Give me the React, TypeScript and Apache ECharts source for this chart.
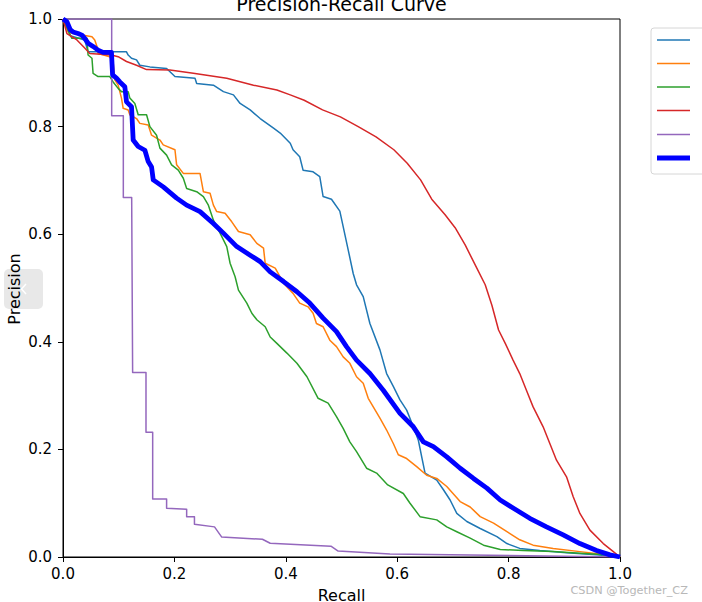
import React, { useEffect, useRef } from "react";
import * as echarts from "echarts";

// ---- data (recall, precision) ----
const seriesNames = ["class 0", "class 1", "class 2", "class 3", "class 4", "all classes"];
const seriesColors = ["#1f77b4", "#ff7f0e", "#2ca02c", "#d62728", "#9467bd", "#0000ff"];
const seriesWidths = [1.5, 1.5, 1.5, 1.5, 1.5, 4.8];
const axisTicks = [0, 0.2, 0.4, 0.6, 0.8, 1.0];

const curveBlue: number[][] = [
  [0, 1], [0.007, 0.983], [0.013, 0.969], [0.039, 0.961], [0.045, 0.939], [0.114, 0.939],
  [0.117, 0.933], [0.123, 0.927], [0.132, 0.924], [0.138, 0.914], [0.156, 0.911], [0.186, 0.908],
  [0.201, 0.893], [0.237, 0.89], [0.24, 0.88], [0.27, 0.877], [0.288, 0.865], [0.306, 0.859],
  [0.318, 0.843], [0.336, 0.831], [0.354, 0.815], [0.378, 0.797], [0.39, 0.788], [0.408, 0.769],
  [0.413, 0.757], [0.425, 0.744], [0.431, 0.719], [0.449, 0.716], [0.461, 0.707], [0.467, 0.67],
  [0.482, 0.665], [0.497, 0.643], [0.503, 0.614], [0.512, 0.571], [0.521, 0.527], [0.527, 0.506],
  [0.539, 0.484], [0.551, 0.434], [0.569, 0.385], [0.581, 0.341], [0.593, 0.317], [0.605, 0.292],
  [0.617, 0.273], [0.629, 0.242], [0.638, 0.217], [0.644, 0.186], [0.65, 0.156], [0.671, 0.143],
  [0.683, 0.125], [0.695, 0.106], [0.707, 0.081], [0.725, 0.066], [0.749, 0.053], [0.779, 0.038],
  [0.797, 0.025], [0.82, 0.016], [0.856, 0.012], [0.904, 0.008], [0.958, 0.004], [1, 0],
];

const curveOrange: number[][] = [
  [0, 1], [0.01, 0.975], [0.052, 0.967], [0.057, 0.961], [0.061, 0.949], [0.063, 0.936],
  [0.084, 0.93], [0.09, 0.92], [0.093, 0.887], [0.099, 0.877], [0.105, 0.853], [0.108, 0.834],
  [0.117, 0.831], [0.12, 0.822], [0.132, 0.815], [0.138, 0.806], [0.153, 0.803], [0.159, 0.784],
  [0.174, 0.775], [0.18, 0.766], [0.201, 0.757], [0.204, 0.729], [0.216, 0.713], [0.246, 0.713],
  [0.252, 0.679], [0.264, 0.676], [0.27, 0.654], [0.276, 0.642], [0.291, 0.639], [0.303, 0.623],
  [0.315, 0.605], [0.336, 0.599], [0.348, 0.583], [0.36, 0.574], [0.363, 0.546], [0.381, 0.537],
  [0.396, 0.509], [0.413, 0.49], [0.425, 0.472], [0.44, 0.465], [0.449, 0.453], [0.455, 0.434],
  [0.467, 0.428], [0.479, 0.403], [0.491, 0.391], [0.503, 0.372], [0.515, 0.36], [0.527, 0.335],
  [0.539, 0.323], [0.548, 0.295], [0.569, 0.258], [0.581, 0.236], [0.593, 0.211], [0.602, 0.19],
  [0.617, 0.183], [0.635, 0.168], [0.653, 0.152], [0.671, 0.146], [0.689, 0.131], [0.713, 0.103],
  [0.731, 0.093], [0.749, 0.075], [0.773, 0.063], [0.797, 0.047], [0.82, 0.032], [0.844, 0.022],
  [0.88, 0.016], [0.928, 0.01], [0.976, 0.004], [1, 0],
];

const curveGreen: number[][] = [
  [0, 1], [0.013, 0.97], [0.016, 0.964], [0.043, 0.964], [0.045, 0.933], [0.052, 0.927],
  [0.054, 0.899], [0.063, 0.893], [0.084, 0.893], [0.09, 0.883], [0.099, 0.871], [0.105, 0.865],
  [0.117, 0.865], [0.12, 0.853], [0.129, 0.843], [0.135, 0.822], [0.15, 0.822], [0.156, 0.8],
  [0.168, 0.784], [0.174, 0.76], [0.186, 0.747], [0.195, 0.729], [0.207, 0.719], [0.216, 0.704],
  [0.222, 0.685], [0.24, 0.679], [0.252, 0.67], [0.261, 0.654], [0.27, 0.626], [0.282, 0.602],
  [0.294, 0.577], [0.3, 0.546], [0.309, 0.521], [0.315, 0.496], [0.33, 0.472], [0.339, 0.453],
  [0.348, 0.441], [0.363, 0.428], [0.372, 0.409], [0.384, 0.397], [0.402, 0.379], [0.42, 0.36],
  [0.438, 0.335], [0.458, 0.295], [0.476, 0.286], [0.491, 0.261], [0.503, 0.239], [0.515, 0.214],
  [0.527, 0.196], [0.545, 0.165], [0.563, 0.156], [0.583, 0.134], [0.611, 0.118], [0.623, 0.1],
  [0.641, 0.075], [0.671, 0.069], [0.689, 0.056], [0.707, 0.047], [0.731, 0.035], [0.755, 0.022],
  [0.785, 0.014], [0.826, 0.012], [0.88, 0.01], [0.928, 0.007], [0.976, 0.004], [1, 0],
];

const curveRed: number[][] = [
  [0, 1], [0.007, 0.973], [0.025, 0.961], [0.039, 0.946], [0.048, 0.936], [0.087, 0.933],
  [0.099, 0.93], [0.114, 0.921], [0.132, 0.914], [0.15, 0.906], [0.192, 0.905], [0.234, 0.899],
  [0.294, 0.89], [0.342, 0.877], [0.384, 0.868], [0.408, 0.859], [0.433, 0.849], [0.466, 0.831],
  [0.498, 0.818], [0.53, 0.8], [0.562, 0.781], [0.594, 0.757], [0.618, 0.732], [0.642, 0.701],
  [0.662, 0.665], [0.686, 0.636], [0.704, 0.612], [0.722, 0.58], [0.74, 0.543], [0.758, 0.506],
  [0.77, 0.468], [0.782, 0.422], [0.794, 0.397], [0.808, 0.366], [0.82, 0.341], [0.832, 0.31],
  [0.844, 0.279], [0.862, 0.242], [0.874, 0.211], [0.886, 0.18], [0.904, 0.149], [0.916, 0.112],
  [0.928, 0.081], [0.946, 0.05], [0.97, 0.025], [0.988, 0.01], [1, 0],
];

const curvePurple: number[][] = [
  [0, 1], [0.0874, 1], [0.0874, 0.82], [0.1083, 0.82], [0.1083, 0.668], [0.1233, 0.668],
  [0.125, 0.343], [0.149, 0.343], [0.149, 0.232], [0.161, 0.232], [0.161, 0.108], [0.186, 0.108],
  [0.186, 0.0905], [0.222, 0.0887], [0.222, 0.075], [0.236, 0.075], [0.236, 0.061], [0.272, 0.056],
  [0.285, 0.037], [0.358, 0.033], [0.372, 0.0255], [0.481, 0.02], [0.494, 0.011], [0.587, 0.0056],
  [1, 0],
];

const curveAll: number[][] = [
  [0, 1], [0.007, 0.995], [0.013, 0.98], [0.018, 0.976], [0.027, 0.973], [0.034, 0.97],
  [0.039, 0.964], [0.045, 0.955], [0.054, 0.949], [0.063, 0.942], [0.072, 0.938], [0.087, 0.938],
  [0.089, 0.896], [0.096, 0.89], [0.102, 0.883], [0.111, 0.874], [0.114, 0.846], [0.123, 0.837],
  [0.126, 0.775], [0.135, 0.763], [0.147, 0.756], [0.153, 0.735], [0.159, 0.725], [0.162, 0.701],
  [0.18, 0.688], [0.204, 0.667], [0.222, 0.654], [0.246, 0.642], [0.27, 0.62], [0.288, 0.602],
  [0.312, 0.577], [0.336, 0.561], [0.354, 0.549], [0.372, 0.53], [0.396, 0.512], [0.42, 0.493],
  [0.443, 0.472], [0.467, 0.444], [0.491, 0.419], [0.509, 0.391], [0.527, 0.366], [0.551, 0.341],
  [0.575, 0.31], [0.605, 0.267], [0.629, 0.242], [0.647, 0.214], [0.665, 0.205], [0.689, 0.186],
  [0.713, 0.165], [0.737, 0.146], [0.761, 0.128], [0.785, 0.106], [0.808, 0.091], [0.838, 0.072],
  [0.868, 0.056], [0.898, 0.041], [0.928, 0.025], [0.958, 0.012], [0.982, 0.004], [1, 0],
];

const curves = [curveBlue, curveOrange, curveGreen, curveRed, curvePurple, curveAll];

const FONT = "DejaVu Sans";

export default function App() {
  const ref = useRef<HTMLDivElement>(null);

  useEffect(() => {
    if (!ref.current) return;
    const chart = echarts.init(ref.current, undefined, { renderer: "svg" });

    const legendYs = [40, 63.5, 87, 110.5, 134.5, 158];
    const legendLines = seriesColors.map((c, i) => ({
      type: "line",
      shape: { x1: 657, y1: legendYs[i], x2: 690, y2: legendYs[i] },
      style: { stroke: c, lineWidth: seriesWidths[i] },
      z: 101,
    }));

    const option: any = {
      animation: false,
      backgroundColor: "#ffffff",
      grid: {
        left: 63,
        top: 19,
        right: 82,
        bottom: 45,
        show: true,
        borderColor: "#000",
        borderWidth: 1,
        backgroundColor: "transparent",
        z: 3,
      },
      xAxis: {
        type: "value",
        min: axisTicks[0],
        max: axisTicks[axisTicks.length - 1],
        interval: 0.2,
        axisLine: { show: true, onZero: false, lineStyle: { color: "#000", width: 1 } },
        axisTick: { show: true, inside: false, length: 5, lineStyle: { color: "#000", width: 1 } },
        axisLabel: {
          fontSize: 15,
          fontFamily: FONT,
          color: "#000",
          margin: 9,
          formatter: (v: number) => v.toFixed(1),
        },
        splitLine: { show: false },
      },
      yAxis: {
        type: "value",
        min: axisTicks[0],
        max: axisTicks[axisTicks.length - 1],
        interval: 0.2,
        axisLine: { show: true, onZero: false, lineStyle: { color: "#000", width: 1 } },
        axisTick: { show: true, inside: false, length: 5, lineStyle: { color: "#000", width: 1 } },
        axisLabel: {
          fontSize: 15,
          fontFamily: FONT,
          color: "#000",
          margin: 11,
          formatter: (v: number) => v.toFixed(1),
        },
        splitLine: { show: false },
      },
      series: curves.map((d, i) => ({
        name: seriesNames[i],
        type: "line",
        data: d,
        showSymbol: false,
        symbol: "none",
        clip: true,
        lineStyle: { color: seriesColors[i], width: seriesWidths[i], join: "round" },
        itemStyle: { color: seriesColors[i] },
        z: 2 + i,
      })),
      graphic: [
        {
          type: "text",
          x: 341.5,
          y: 3.5,
          style: {
            text: "Precision-Recall Curve",
            fontSize: 19,
            fontFamily: FONT,
            fill: "#000",
            textAlign: "center",
            textVerticalAlign: "middle",
          },
          z: 100,
        },
        {
          type: "text",
          x: 341.5,
          y: 595.5,
          style: {
            text: "Recall",
            fontSize: 16,
            fontFamily: FONT,
            fill: "#000",
            textAlign: "center",
            textVerticalAlign: "middle",
          },
          z: 100,
        },
        {
          type: "rect",
          shape: { x: 4, y: 269, width: 39, height: 40, r: 5 },
          style: { fill: "#e8e8e8" },
          z: 99,
        },
        {
          type: "polyline",
          shape: { points: [[26, 284], [21.5, 289], [26, 294]] },
          style: { stroke: "#ffffff", lineWidth: 1.5, fill: null },
          z: 99,
        },
        {
          type: "text",
          x: 14.5,
          y: 289,
          rotation: Math.PI / 2,
          style: {
            text: "Precision",
            fontSize: 16,
            fontFamily: FONT,
            fill: "#000",
            textAlign: "center",
            textVerticalAlign: "middle",
          },
          z: 100,
        },
        {
          type: "rect",
          shape: { x: 651, y: 28, width: 80, height: 146, r: 3 },
          style: { fill: "rgba(255,255,255,0.8)", stroke: "#d6d6d6", lineWidth: 1 },
          z: 100,
        },
        ...legendLines,
        {
          type: "text",
          x: 688,
          y: 590,
          style: {
            text: "CSDN @Together_CZ",
            fontSize: 11.3,
            fontFamily: FONT,
            fill: "#b8b8b8",
            textAlign: "right",
            textVerticalAlign: "middle",
          },
          z: 100,
        },
      ],
    };

    chart.setOption(option);
    return () => {
      chart.dispose();
    };
  }, []);

  return (
    <div
      ref={ref}
      style={{ position: "absolute", left: 0, top: 0, width: 702, height: 602, background: "#fff" }}
    />
  );
}
